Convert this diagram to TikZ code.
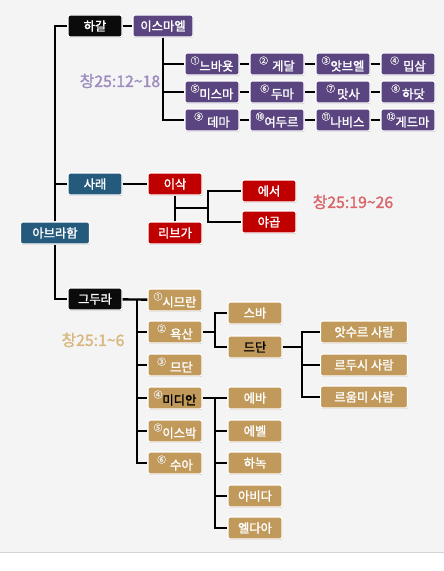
\documentclass[tikz,border=0pt]{standalone}
\usepackage{fontspec}
\setmainfont{Noto Sans CJK KR}
\newfontfamily\krbold{Noto Sans CJK KR}[FakeBold=1.6]
\usetikzlibrary{shadows}
\definecolor{FamInk}{HTML}{0B0B0B}
\definecolor{FamPurple}{HTML}{5B4580}
\definecolor{FamBlue}{HTML}{245A7C}
\definecolor{FamRed}{HTML}{C00000}
\definecolor{FamTan}{HTML}{C19A5B}
\definecolor{FamBack}{HTML}{F4F4F4}
\definecolor{FamRule}{HTML}{D4D4D4}
\definecolor{RefPurple}{HTML}{9D8CC0}
\definecolor{RefRed}{HTML}{D9656B}
\definecolor{RefTan}{HTML}{D8B87F}
\newcommand{\sonno}[1]{\raisebox{1.0ex}{\fontsize{7.5}{7.5}\selectfont\color{white!92!black}#1}}

\begin{document}
\begin{tikzpicture}[
      x=0.3mm,y=-0.3mm,
      conn/.style={line width=2pt,draw=black},
      person/.style={draw=white,line width=0.9pt,rounded corners=2pt,
        minimum width=16.2mm,minimum height=6.6mm,inner sep=1pt,
        text=white,font=\fontsize{10.5}{12}\krbold,
        drop shadow={opacity=0.45,shadow xshift=0.4pt,shadow yshift=-0.8pt}},
      ref/.style={font=\fontsize{13.5}{15}\krbold}
    ]
    \useasboundingbox (0,0) rectangle (444,571);
    \fill[FamBack] (0,0) rectangle (444,552);
    \draw[FamRule,line width=0.8pt] (0,552) -- (444,552);

    % Abraham and his wives
    \node[person,fill=FamBlue,minimum width=20.7mm] (abraham) at (55,233) {아브라함};
    \node[person,fill=FamInk] (hagar) at (95,26) {하갈};
    \node[person,fill=FamBlue] (sarah) at (95,184) {사래};
    \node[person,fill=FamInk] (keturah) at (95,299) {그두라};
    \draw[conn] (hagar.west) -| (abraham.north);
    \draw[conn] (abraham.south) |- (keturah.west);
    \draw[conn] (sarah.west) -- (sarah.west -| abraham.north);

    % Ishmael
    \node[person,fill=FamPurple,minimum width=18mm] (ishmael) at (163,26) {이스마엘};
    \draw[conn] (hagar) -- (ishmael);
    \node[ref,text=RefPurple] (ref1) at (120,81) {창25:12\textasciitilde18};

    \node[person,fill=FamPurple] (i1) at (212,64) {\sonno{①}느바욧};
    \node[person,fill=FamPurple] (i2) at (277,64) {\sonno{②}\,\,게달};
    \node[person,fill=FamPurple] (i3) at (343,64) {\sonno{③}앗브엘};
    \node[person,fill=FamPurple] (i4) at (408,64) {\sonno{④}\,\,밉삼};
    \node[person,fill=FamPurple] (i5) at (212,92) {\sonno{⑤}미스마};
    \node[person,fill=FamPurple] (i6) at (277,92) {\sonno{⑥}\,두마};
    \node[person,fill=FamPurple] (i7) at (343,92) {\sonno{⑦}\,맛사};
    \node[person,fill=FamPurple] (i8) at (408,92) {\sonno{⑧}\,하닷};
    \node[person,fill=FamPurple] (i9) at (212,120) {\sonno{⑨}\,\,데마};
    \node[person,fill=FamPurple] (i10) at (277,120) {\sonno{⑩}여두르};
    \node[person,fill=FamPurple] (i11) at (343,120) {\sonno{⑪}나비스};
    \node[person,fill=FamPurple] (i12) at (408,120) {\sonno{⑫}게드마};
    \foreach \a in {1,5,9} \draw[conn] (ishmael.south) |- (i\a.west);
    \foreach \a/\b in {1/2,2/3,3/4,5/6,6/7,7/8,9/10,10/11,11/12}
      \draw[conn] (i\a) -- (i\b);

    % Isaac
    \node[person,fill=FamRed] (isaac) at (175,184) {이삭};
    \node[person,fill=FamRed] (rebekah) at (175,233) {리브가};
    \node[person,fill=FamRed] (esau) at (269,191) {에서};
    \node[person,fill=FamRed] (jacob) at (269,222) {야곱};
    \node[ref,text=RefRed] (ref2) at (353,202) {창25:19\textasciitilde26};
    \coordinate (couple) at (175,208);
    \coordinate (twins) at (208,208);
    \draw[conn] (sarah) -- (isaac);
    \draw[conn] (isaac) -- (rebekah);
    \draw[conn] (couple) -- (twins);
    \draw[conn] (twins) |- (esau.west);
    \draw[conn] (twins) |- (jacob.west);

    % Keturah
    \node[ref,text=RefTan] (ref3) at (93,340) {창25:1\textasciitilde6};
    \node[person,fill=FamTan] (zimran) at (175,300) {\sonno{①}시므란};
    \node[person,fill=FamTan] (jokshan) at (175,332) {\sonno{②}\,\,욕산};
    \node[person,fill=FamTan] (medan) at (175,365) {\sonno{③}\,\,므단};
    \node[person,fill=FamTan,text=black] (midian) at (175,398) {\sonno{④}미디안};
    \node[person,fill=FamTan] (ishbak) at (175,431) {\sonno{⑤}이스박};
    \node[person,fill=FamTan] (shuah) at (175,463) {\sonno{⑥}\,\,수아};
    \coordinate (kbus) at (137,300);
    \draw[conn] (keturah) -- (zimran);
    \foreach \s in {jokshan,medan,midian,ishbak,shuah}
      \draw[conn] (kbus) |- (\s.west);

    % Jokshan and Dedan
    \node[person,fill=FamTan] (sheba) at (255,313) {스바};
    \node[person,fill=FamTan,text=black] (dedan) at (255,347) {드단};
    \coordinate (jbus) at (215,332);
    \draw[conn] (jokshan) -- (jbus);
    \draw[conn] (jbus) |- (sheba.west);
    \draw[conn] (jbus) |- (dedan.west);
    \node[person,fill=FamTan,minimum width=26.1mm] (asshur) at (364,332) {앗수르 사람};
    \node[person,fill=FamTan,minimum width=26.1mm] (letush) at (364,365) {르두시 사람};
    \node[person,fill=FamTan,minimum width=26.1mm] (leumm) at (364,397) {르움미 사람};
    \coordinate (dbus) at (302,347);
    \draw[conn] (dedan) -- (dbus);
    \foreach \s in {asshur,letush,leumm}
      \draw[conn] (dbus) |- (\s.west);

    % Midian
    \node[person,fill=FamTan] (ephah) at (255,398) {에바};
    \node[person,fill=FamTan] (epher) at (255,431) {에벨};
    \node[person,fill=FamTan] (hanoch) at (255,463) {하녹};
    \node[person,fill=FamTan] (abida) at (255,496) {아비다};
    \node[person,fill=FamTan] (eldaah) at (255,528) {엘다아};
    \coordinate (mbus) at (215,398);
    \draw[conn] (midian) -- (ephah);
    \foreach \s in {epher,hanoch,abida,eldaah}
      \draw[conn] (mbus) |- (\s.west);
  \end{tikzpicture}
\end{document}
